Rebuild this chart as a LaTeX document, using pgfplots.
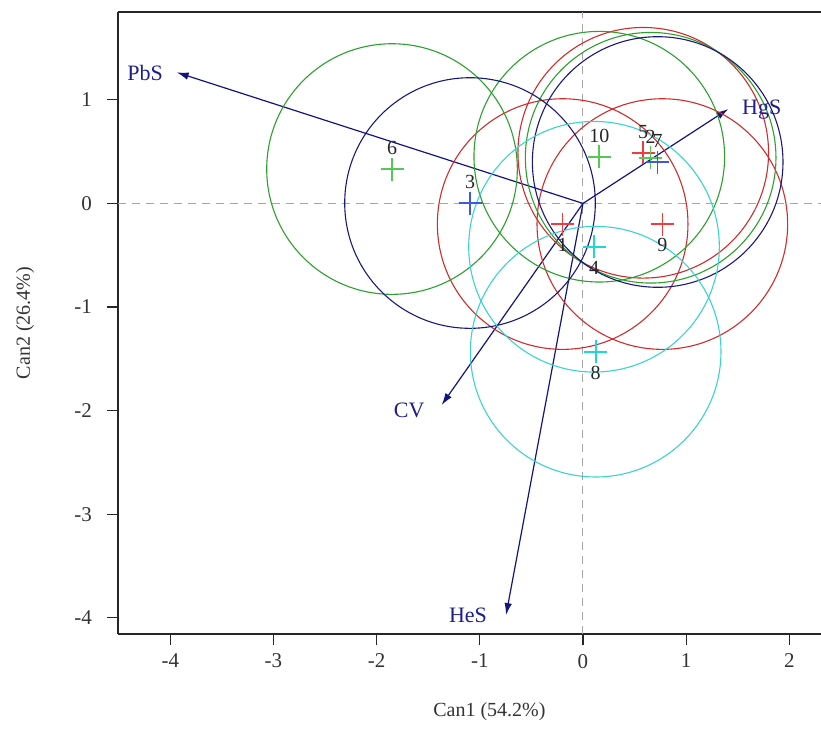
\documentclass[border=0pt]{standalone}
\usepackage{pgfplots}
\pgfplotsset{compat=1.18}
\usepackage{pgfplotstable}
\usetikzlibrary{arrows.meta}
\usepackage{fontspec}
\setmainfont{Liberation Serif}

\definecolor{circR}{RGB}{205,45,45}
\definecolor{circG}{RGB}{45,160,45}
\definecolor{circB}{RGB}{25,25,125}
\definecolor{circC}{RGB}{60,210,210}
\definecolor{crossR}{RGB}{240,60,60}
\definecolor{crossG}{RGB}{85,200,85}
\definecolor{crossB}{RGB}{60,90,225}
\definecolor{crossC}{RGB}{30,215,215}
\definecolor{vecB}{RGB}{20,20,125}
\definecolor{labB}{RGB}{30,30,140}

% group means (Can1, Can2)
\pgfplotstableread{
x y
-0.197 -0.199
0.584 0.489
0.769 -0.199
}\grpRed
\pgfplotstableread{
x y
0.656 0.441
-1.851 0.332
0.158 0.451
}\grpGreen
\pgfplotstableread{
x y
-1.095 0.004
0.724 0.400
}\grpBlue
\pgfplotstableread{
x y
0.107 -0.418
0.123 -1.431
}\grpCyan
% group labels above / below the means
\pgfplotstableread{
x y lab
0.656 0.441 2
-1.095 0.004 3
0.584 0.489 5
-1.851 0.332 6
0.724 0.400 7
0.158 0.451 10
}\labAbove
\pgfplotstableread{
x y lab
-0.197 -0.199 1
0.107 -0.418 4
0.123 -1.431 8
0.769 -0.199 9
}\labBelow
% variable vectors: label positions
\pgfplotstableread{
x y lab
-4.245 1.255 PbS
1.732 0.902 HgS
-1.684 -1.993 CV
-1.115 -3.973 HeS
}\vecLabels

\begin{document}
\begin{tikzpicture}
\useasboundingbox (-59pt,-57.5pt) rectangle (351.5pt,317pt);
\begin{axis}[
  at={(0,0)}, anchor=south west,
  scale only axis, width=351.5pt, height=311pt,
  xmin=-4.507, xmax=2.307, ymin=-4.156, ymax=1.848,
  axis x line*=box, axis y line*=left,
  axis line style={-, line width=0.6pt, black!85},
  xtick pos=left, ytick pos=left,
  tick align=outside, major tick length=5.5pt,
  tick style={line width=0.6pt, black!85},
  xtick={-4,-3,-2,-1,0,1,2}, ytick={-4,-3,-2,-1,0,1},
  /pgf/number format/assume math mode=true,
  ticklabel style={font=\fontsize{10.5}{12}\selectfont, text=black!80},
  yticklabel style={xshift=-4pt},
  xticklabel style={yshift=-1pt},
  xlabel={Can1 (54.2\%)}, ylabel={Can2 (26.4\%)},
  xlabel style={at={(axis description cs:0.5284,-0.1254)}, anchor=center, font=\fontsize{10}{12}\selectfont, text=black!80},
  ylabel style={at={(axis description cs:-0.1323,0.5)}, anchor=center, font=\fontsize{10}{12}\selectfont, text=black!80},
  clip=false,
]
% reference lines
\addplot[gray!70, line width=0.5pt, dash pattern=on 4pt off 3pt] coordinates {(0,-4.156) (0,1.848)};
\addplot[gray!70, line width=0.5pt, dash pattern=on 4pt off 3pt] coordinates {(-4.507,0) (2.307,0)};
% confidence circles around group means
\addplot[only marks, mark=o, mark size=62.65pt, mark options={draw=circR, line width=0.55pt}] table {\grpRed};
\addplot[only marks, mark=o, mark size=62.65pt, mark options={draw=circG, line width=0.55pt}] table {\grpGreen};
\addplot[only marks, mark=o, mark size=62.65pt, mark options={draw=circB, line width=0.55pt}] table {\grpBlue};
\addplot[only marks, mark=o, mark size=62.65pt, mark options={draw=circC, line width=0.55pt}] table {\grpCyan};
% group means
\addplot[only marks, mark=+, mark size=5.75pt, mark options={draw=crossR, line width=0.8pt}] table {\grpRed};
\addplot[only marks, mark=+, mark size=5.75pt, mark options={draw=crossG, line width=0.8pt}] table {\grpGreen};
\addplot[only marks, mark=+, mark size=5.75pt, mark options={draw=crossB, line width=0.8pt}] table {\grpBlue};
\addplot[only marks, mark=+, mark size=5.75pt, mark options={draw=crossC, line width=0.9pt}] table {\grpCyan};
% group labels
\addplot[only marks, mark=none, point meta=explicit symbolic, nodes near coords,
  nodes near coords style={anchor=center, yshift=10.5pt, font=\fontsize{10}{12}\selectfont, text=black!85, inner sep=0pt}]
  table[meta=lab] {\labAbove};
\addplot[only marks, mark=none, point meta=explicit symbolic, nodes near coords,
  nodes near coords style={anchor=center, yshift=-10.5pt, font=\fontsize{10}{12}\selectfont, text=black!85, inner sep=0pt}]
  table[meta=lab] {\labBelow};
% variable vectors
\addplot[vecB, line width=0.6pt, -{Latex[length=6pt,width=3.8pt]}] coordinates {(0,0) (-3.938,1.265)};
\addplot[vecB, line width=0.6pt, -{Latex[length=6pt,width=3.8pt]}] coordinates {(0,0) (1.408,0.911)};
\addplot[vecB, line width=0.6pt, -{Latex[length=6pt,width=3.8pt]}] coordinates {(0,0) (-1.370,-1.946)};
\addplot[vecB, line width=0.6pt, -{Latex[length=6pt,width=3.8pt]}] coordinates {(0,0) (-0.746,-3.973)};
\addplot[only marks, mark=none, point meta=explicit symbolic, nodes near coords,
  nodes near coords style={anchor=center, font=\fontsize{11}{13}\selectfont, text=labB, inner sep=0pt}]
  table[meta=lab] {\vecLabels};
\end{axis}
\end{tikzpicture}
\end{document}
